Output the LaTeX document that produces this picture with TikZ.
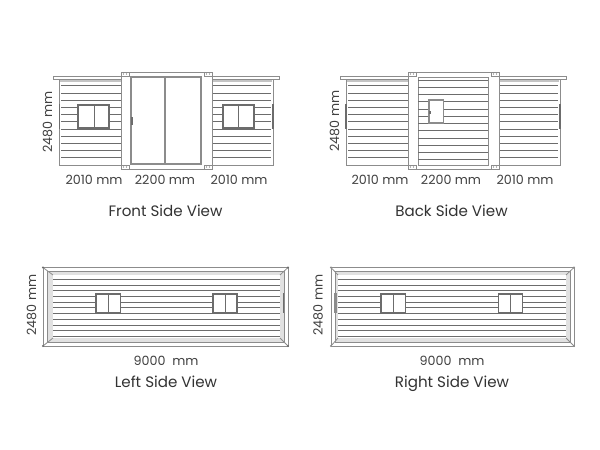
\documentclass[tikz,border=0pt]{standalone}
\usepackage{fontspec}
\setmainfont{Poppins}
\usepackage{tikz}
\usetikzlibrary{positioning}
\definecolor{wallgray}{HTML}{6C6C6C}
\definecolor{framegray}{HTML}{8C8C8C}
\definecolor{bandgray}{HTML}{C4C4C4}

\begin{document}
\begin{tikzpicture}[x=1pt, y=-1pt]
\tikzstyle{frame} = [draw = framegray, line width=0.8pt, fill = white]
\tikzstyle{siding} = [draw = wallgray, line width=1pt]
\tikzstyle{band} = [draw = none, fill = bandgray]
\tikzstyle{pane} = [draw = wallgray, line width=1.5pt, fill = white]
\tikzstyle{handle} = [draw = none, fill = wallgray]
\tikzstyle{dim} = [font=\fontsize{12.7}{14}\selectfont, text = black!75, inner sep=0pt, anchor=base]
\tikzstyle{title} = [font=\fontsize{15.1}{17}\selectfont, text = black!80, inner sep=0pt, anchor=base]
\useasboundingbox (0,0) rectangle (600,450);
\fill [white] (0,0) rectangle (600,450);
% front side view
\draw [frame] (59,79) rectangle (122,165);
\draw [frame] (212,79) rectangle (273,165);
\fill [band] (60,79.5) rectangle (121,82);
\fill [band] (213,79.5) rectangle (272,82);
\foreach \y in {85.5,93.5,100.5,107.5,114.5,121.5,129.5,136.5,143.5,150.5,157.5} {
  \draw [siding] (61,\y) -- (122,\y);
  \draw [siding] (212,\y) -- (271,\y);
}
\draw [frame] (53,76) rectangle (279,79);
\draw [frame] (121,72) rectangle (212,169);
\draw [frame] (131,77) rectangle (201,164);
\draw [frame, line width=1.1pt] (131,77) rectangle (164.5,164);
\draw [frame, line width=1.1pt] (165.5,77) rectangle (201,164);
\draw [handle] (131,117) rectangle (132.5,125);
\draw [handle] (58.5,104) rectangle (60,129);
\draw [handle] (272,104) rectangle (273.5,129);
\draw [pane] (78,105) rectangle (109,128);
\draw [pane, line width=0.8pt] (94,105) -- (94,128);
\draw [pane] (223,105) rectangle (254,128);
\draw [pane, line width=0.8pt] (238.5,105) -- (238.5,128);
\foreach \x/\y in {121/72,204/72,121/165,204/165} {
  \draw [frame] (\x,\y) rectangle ++(8,4);
  \fill [wallgray] (\x+2.5,\y+2) circle (0.6);
  \fill [wallgray] (\x+5.5,\y+2) circle (0.6);
}
% back side view
\draw [frame] (346,79) rectangle (409,165);
\draw [frame] (499,79) rectangle (560,165);
\fill [band] (347,79.5) rectangle (408,82);
\fill [band] (500,79.5) rectangle (559,82);
\foreach \y in {85.5,93.5,100.5,107.5,114.5,121.5,129.5,136.5,143.5,150.5,157.5} {
  \draw [siding] (348,\y) -- (409,\y);
  \draw [siding] (499,\y) -- (558,\y);
}
\draw [frame] (340,76) rectangle (566,79);
\draw [frame] (408,72) rectangle (499,169);
\draw [frame] (418,77) rectangle (488,165);
\foreach \y in {80.5,87.5,94.5,101.5,109.5,116.5,123.5,130.5,138.5,145.5,152.5,159.5} {
  \draw [siding] (418,\y) -- (488,\y);
}
\draw [pane, draw = framegray, line width=1.8pt] (429,100) rectangle (443.5,123);
\draw [handle] (429,111) rectangle (430.5,114);
\draw [handle] (345,104) rectangle (346.5,129);
\draw [handle] (559,104) rectangle (560.5,129);
\foreach \x/\y in {408/72,491/72,408/165,491/165} {
  \draw [frame] (\x,\y) rectangle ++(8,4);
  \fill [wallgray] (\x+2.5,\y+2) circle (0.6);
  \fill [wallgray] (\x+5.5,\y+2) circle (0.6);
}
% left side view
\draw [frame] (43,267.5) rectangle (288,346);
\draw [frame, fill = bandgray!50] (47,271) rectangle (284,342);
\fill [white] (53,275) rectangle (280,338);
\foreach \y in {279.5,285.5,290.5,296.5,302.5,307.5,313.5,319.5,325.5,330.5,336.5} {
  \draw [siding] (53,\y) -- (280,\y);
}
\draw [frame] (43,267.5) -- (53,275);
\draw [frame] (288,267.5) -- (280,275);
\draw [frame] (43,346) -- (53,338);
\draw [frame] (288,346) -- (280,338);
\draw [pane] (96,294) rectangle (120.5,312.5);
\draw [pane, line width=0.8pt] (108,294) -- (108,312.5);
\draw [pane] (213,294) rectangle (237,312.5);
\draw [pane, line width=0.8pt] (225,294) -- (225,312.5);
\draw [handle] (282.8,293) rectangle (283.8,313);
\foreach \x/\y in {43/267.5,288/267.5,43/346,288/346} {
  \fill [wallgray] (\x,\y) circle (1.2);
}
% right side view
\draw [frame] (331,267.5) rectangle (574,346);
\draw [frame, fill = bandgray!50] (335,271) rectangle (570,342);
\fill [white] (338,275) rectangle (566,338);
\foreach \y in {279.5,285.5,290.5,296.5,302.5,307.5,313.5,319.5,325.5,330.5,336.5} {
  \draw [siding] (338,\y) -- (566,\y);
}
\draw [frame] (331,267.5) -- (338,275);
\draw [frame] (574,267.5) -- (566,275);
\draw [frame] (331,346) -- (338,338);
\draw [frame] (574,346) -- (566,338);
\draw [pane] (381,294) rectangle (405.5,312.5);
\draw [pane, line width=0.8pt] (393,294) -- (393,312.5);
\draw [pane] (498.5,294) rectangle (522.5,312.5);
\draw [pane, line width=0.8pt] (510.5,294) -- (510.5,312.5);
\draw [handle, fill = framegray] (334,293) rectangle (336.5,313);
\foreach \x/\y in {331/267.5,574/267.5,331/346,574/346} {
  \fill [framegray] (\x,\y) circle (1.2);
}
% labels
\node (fronth) [dim, rotate=90] at (52,122) {2480 mm};
\node (frontl) [dim] at (94,184) {2010 mm};
\node (frontm) [dim] at (165,184) {2200 mm};
\node (frontr) [dim] at (239,184) {2010 mm};
\node (fronttitle) [title] at (165.5,216) {Front Side View};
\node (backh) [dim, rotate=90] at (339,121) {2480 mm};
\node (backl) [dim] at (380,184) {2010 mm};
\node (backm) [dim] at (451,184) {2200 mm};
\node (backr) [dim] at (525,184) {2010 mm};
\node (backtitle) [title] at (451.5,216) {Back Side View};
\node (lefth) [dim, rotate=90] at (36,305) {2480 mm};
\node (leftw) [dim] at (166,365) {9000\ \ mm};
\node (lefttitle) [title] at (166,387) {Left Side View};
\node (righth) [dim, rotate=90] at (322.5,305) {2480 mm};
\node (rightw) [dim] at (452,365) {9000\ \ mm};
\node (righttitle) [title] at (452,387) {Right Side View};
\end{tikzpicture}
\end{document}
